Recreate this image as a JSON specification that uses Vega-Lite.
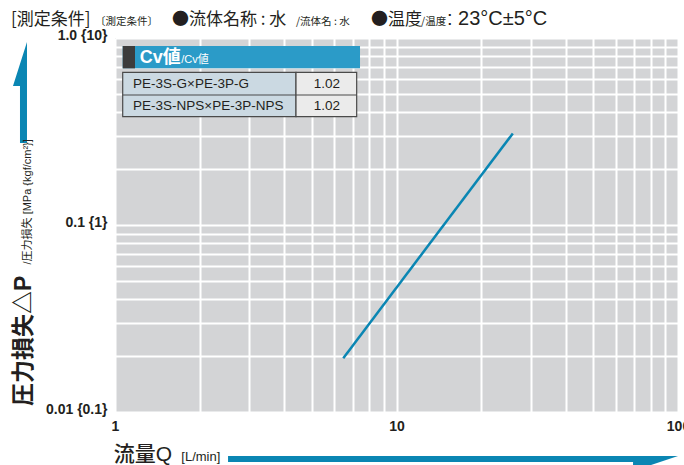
{
  "$schema": "https://vega.github.io/schema/vega-lite/v6.json",
  "width": 563,
  "height": 374,
  "autosize": {"type": "none"},
  "padding": {"left": 115, "top": 38, "right": 6, "bottom": 53},
  "background": "#ffffff",
  "config": {
    "view": {"fill": "#d3d4d6", "stroke": null},
    "axis": {"domain": false, "ticks": false, "grid": true, "gridColor": "#ffffff", "gridWidth": 2, "gridOpacity": 1, "labelFont": "Liberation Sans", "labelFontWeight": "bold", "labelFontSize": 14, "labelColor": "#231f20", "labelOverlap": false, "labelFlush": false}
  },
  "datasets": {
    "flow": [{"q": 6.47, "dp": 0.0194}, {"q": 25.9, "dp": 0.309}],
    "cv": [{"model": "PE-3S-G×PE-3P-G", "cv": 1.02}, {"model": "PE-3S-NPS×PE-3P-NPS", "cv": 1.02}]
  },
  "layer": [
    {
      "data": {"name": "flow"},
      "mark": {"type": "line", "color": "#0a86b3", "strokeWidth": 2.5},
      "encoding": {
        "x": {"field": "q", "type": "quantitative", "scale": {"type": "log", "domain": [1, 100]},
          "axis": {"title": null, "values": [1,2,3,4,5,6,7,8,9,10,20,30,40,50,60,70,80,90,100], "labelExpr": "indexof([1,10,100], datum.value) >= 0 ? datum.label : ''", "labelPadding": 7, "labelBaseline": "top"}},
        "y": {"field": "dp", "type": "quantitative", "scale": {"type": "log", "domain": [0.01, 1]},
          "axis": {"title": null, "values": [0.01,0.02,0.03,0.04,0.05,0.06,0.07,0.08,0.09,0.1,0.2,0.3,0.4,0.5,0.6,0.7,0.8,0.9,1], "labelExpr": "datum.value == 1 ? '1.0 {10}' : datum.value == 0.1 ? '0.1 {1}' : datum.value == 0.01 ? '0.01 {0.1}' : ''", "labelPadding": 8, "labelBaseline": "middle", "labelOffset": -3}}
      }
    },
    {
      "data": {"values": [{}]},
      "mark": {"type": "rect", "color": "#2b9bc8"},
      "encoding": {"x": {"datum": 1.065, "type": "quantitative"}, "x2": {"datum": 7.42}, "y": {"datum": 0.906, "type": "quantitative"}, "y2": {"datum": 0.688}}
    },
    {
      "data": {"values": [{}]},
      "mark": {"type": "rect", "color": "#3c3c3c"},
      "encoding": {"x": {"datum": 1.065, "type": "quantitative"}, "x2": {"datum": 1.178}, "y": {"datum": 0.906, "type": "quantitative"}, "y2": {"datum": 0.688}}
    },
    {
      "data": {"values": [{}]},
      "mark": {"type": "rect", "fill": "#cbd9e2", "stroke": "#4a4a4a", "strokeWidth": 1.2},
      "encoding": {"x": {"datum": 1.065, "type": "quantitative"}, "x2": {"datum": 4.395}, "y": {"datum": 0.6555, "type": "quantitative"}, "y2": {"datum": 0.3794}}
    },
    {
      "data": {"values": [{}]},
      "mark": {"type": "rect", "fill": "#ebebeb", "stroke": "#4a4a4a", "strokeWidth": 1.2},
      "encoding": {"x": {"datum": 4.395, "type": "quantitative"}, "x2": {"datum": 7.22}, "y": {"datum": 0.6555, "type": "quantitative"}, "y2": {"datum": 0.3794}}
    },
    {
      "data": {"values": [{}]},
      "mark": {"type": "rule", "color": "#4a4a4a", "strokeWidth": 1.2},
      "encoding": {"x": {"datum": 1.065, "type": "quantitative"}, "x2": {"datum": 7.22}, "y": {"datum": 0.4957, "type": "quantitative"}}
    },
    {
      "data": {"values": [{}]},
      "mark": {"type": "text", "text": "Cv値", "font": "Liberation Sans, Noto Sans CJK JP", "fontSize": 18, "fontWeight": "bold", "color": "#ffffff", "align": "left", "baseline": "alphabetic"},
      "encoding": {"x": {"datum": 1.225, "type": "quantitative"}, "y": {"datum": 0.735, "type": "quantitative"}}
    },
    {
      "data": {"values": [{}]},
      "mark": {"type": "text", "text": "/Cv値", "font": "Liberation Sans, Noto Sans CJK JP", "fontSize": 11, "color": "#ffffff", "align": "left", "baseline": "alphabetic"},
      "encoding": {"x": {"datum": 1.72, "type": "quantitative"}, "y": {"datum": 0.735, "type": "quantitative"}}
    },
    {
      "data": {"name": "cv"},
      "transform": [{"filter": "datum.model == 'PE-3S-G×PE-3P-G'"}],
      "layer": [
        {"mark": {"type": "text", "font": "Liberation Sans", "fontSize": 13.5, "color": "#231f20", "align": "left", "baseline": "middle"},
         "encoding": {"x": {"datum": 1.159, "type": "quantitative"}, "y": {"datum": 0.5705, "type": "quantitative"}, "text": {"field": "model"}}},
        {"mark": {"type": "text", "font": "Liberation Sans", "fontSize": 13.5, "color": "#231f20", "align": "center", "baseline": "middle"},
         "encoding": {"x": {"datum": 5.66, "type": "quantitative"}, "y": {"datum": 0.5705, "type": "quantitative"}, "text": {"field": "cv", "format": ".2f"}}}
      ]
    },
    {
      "data": {"name": "cv"},
      "transform": [{"filter": "datum.model == 'PE-3S-NPS×PE-3P-NPS'"}],
      "layer": [
        {"mark": {"type": "text", "font": "Liberation Sans", "fontSize": 13.5, "color": "#231f20", "align": "left", "baseline": "middle"},
         "encoding": {"x": {"datum": 1.159, "type": "quantitative"}, "y": {"datum": 0.434, "type": "quantitative"}, "text": {"field": "model"}}},
        {"mark": {"type": "text", "font": "Liberation Sans", "fontSize": 13.5, "color": "#231f20", "align": "center", "baseline": "middle"},
         "encoding": {"x": {"datum": 5.66, "type": "quantitative"}, "y": {"datum": 0.434, "type": "quantitative"}, "text": {"field": "cv", "format": ".2f"}}}
      ]
    },
    {
      "data": {"values": [{}]},
      "mark": {"type": "point", "shape": "M0.14,-1.01L-0.14,-0.13L0,-0.13L0,1.01L0.14,1.01Z", "size": 10000, "filled": true, "color": "#0a86b3", "opacity": 1},
      "encoding": {"x": {"datum": 0.4597, "type": "quantitative"}, "y": {"datum": 0.511, "type": "quantitative"}}
    },
    {
      "data": {"values": [{}]},
      "mark": {"type": "point", "shape": "M-2.25,-0.03L2.25,-0.03L1.8,0.12L1.8,0.03L-2.25,0.03Z", "size": 40000, "filled": true, "color": "#0a86b3", "opacity": 1},
      "encoding": {"x": {"datum": 15.88, "type": "quantitative"}, "y": {"datum": 0.005606, "type": "quantitative"}}
    },
    {
      "data": {"values": [{}]},
      "mark": {"type": "text", "text": "圧力損失△P", "font": "Liberation Sans, Noto Sans CJK JP", "fontSize": 23, "fontWeight": "bold", "color": "#231f20", "angle": 270, "align": "left", "baseline": "alphabetic"},
      "encoding": {"x": {"datum": 0.503, "type": "quantitative"}, "y": {"datum": 0.01076, "type": "quantitative"}}
    },
    {
      "data": {"values": [{}]},
      "mark": {"type": "text", "text": "/圧力損失 [MPa {kgf/cm²}]", "font": "Liberation Sans Narrow, Liberation Sans, Noto Sans CJK JP", "fontSize": 11, "color": "#231f20", "angle": 270, "align": "left", "baseline": "alphabetic"},
      "encoding": {"x": {"datum": 0.503, "type": "quantitative"}, "y": {"datum": 0.0615, "type": "quantitative"}}
    },
    {
      "data": {"values": [{}]},
      "mark": {"type": "text", "text": "流量Q", "font": "Liberation Sans, Noto Sans CJK JP", "fontSize": 21, "fontWeight": 500, "color": "#231f20", "align": "left", "baseline": "alphabetic"},
      "encoding": {"x": {"datum": 0.99, "type": "quantitative"}, "y": {"datum": 0.00547, "type": "quantitative"}}
    },
    {
      "data": {"values": [{}]},
      "mark": {"type": "text", "text": "[L/min]", "font": "Liberation Sans Narrow, Liberation Sans", "fontSize": 13, "color": "#231f20", "align": "left", "baseline": "alphabetic"},
      "encoding": {"x": {"datum": 1.72, "type": "quantitative"}, "y": {"datum": 0.00547, "type": "quantitative"}}
    },
    {
      "data": {"values": [{}]},
      "mark": {"type": "text", "text": "[測定条件]", "font": "Liberation Sans Narrow, Noto Sans CJK JP", "fontSize": 17, "color": "#231f20", "align": "left", "baseline": "alphabetic"},
      "encoding": {"x": {"datum": 0.4271, "type": "quantitative"}, "y": {"datum": 1.174, "type": "quantitative"}}
    },
    {
      "data": {"values": [{}]},
      "mark": {"type": "text", "text": "〔測定条件〕", "font": "Noto Sans CJK JP", "fontSize": 10.5, "color": "#231f20", "align": "left", "baseline": "alphabetic"},
      "encoding": {"x": {"datum": 0.849, "type": "quantitative"}, "y": {"datum": 1.174, "type": "quantitative"}}
    },
    {
      "data": {"values": [{}]},
      "mark": {"type": "text", "text": "●流体名称 : 水", "font": "Liberation Sans Narrow, Noto Sans CJK JP", "fontSize": 17, "color": "#231f20", "align": "left", "baseline": "alphabetic"},
      "encoding": {"x": {"datum": 1.594, "type": "quantitative"}, "y": {"datum": 1.174, "type": "quantitative"}}
    },
    {
      "data": {"values": [{}]},
      "mark": {"type": "text", "text": "/流体名 : 水", "font": "Liberation Sans Narrow, Noto Sans CJK JP", "fontSize": 10.5, "color": "#231f20", "align": "left", "baseline": "alphabetic"},
      "encoding": {"x": {"datum": 4.395, "type": "quantitative"}, "y": {"datum": 1.174, "type": "quantitative"}}
    },
    {
      "data": {"values": [{}]},
      "mark": {"type": "text", "text": "●温度", "font": "Liberation Sans Narrow, Noto Sans CJK JP", "fontSize": 17, "color": "#231f20", "align": "left", "baseline": "alphabetic"},
      "encoding": {"x": {"datum": 8.117, "type": "quantitative"}, "y": {"datum": 1.174, "type": "quantitative"}}
    },
    {
      "data": {"values": [{}]},
      "mark": {"type": "text", "text": "/温度", "font": "Liberation Sans Narrow, Noto Sans CJK JP", "fontSize": 10.5, "color": "#231f20", "align": "left", "baseline": "alphabetic"},
      "encoding": {"x": {"datum": 12.22, "type": "quantitative"}, "y": {"datum": 1.174, "type": "quantitative"}}
    },
    {
      "data": {"values": [{}]},
      "mark": {"type": "text", "text": ": 23°C±5°C", "font": "Liberation Sans, Noto Sans CJK JP", "fontSize": 20, "color": "#231f20", "align": "left", "baseline": "alphabetic"},
      "encoding": {"x": {"datum": 15.11, "type": "quantitative"}, "y": {"datum": 1.174, "type": "quantitative"}}
    }
  ]
}
